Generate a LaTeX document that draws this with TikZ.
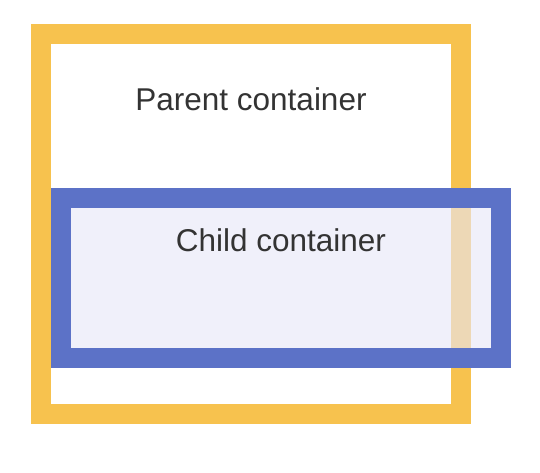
\documentclass[tikz,border=0pt]{standalone}
\usepackage{fontspec}
\setmainfont{Liberation Sans}
\definecolor{pyellow}{RGB}{247,194,78}
\definecolor{cblue}{RGB}{92,114,199}
\definecolor{clav}{RGB}{231,231,247}
\definecolor{txt}{RGB}{51,51,51}
\begin{document}
\begin{tikzpicture}[x=1pt,y=-1pt,
  parentbox/.style={draw=pyellow,line width=20pt},
  childfill/.style={fill=clav,fill opacity=0.62},
  childborder/.style={draw=cblue,line width=20pt},
  lbl/.style={text=txt,font=\fontsize{31.5}{36}\selectfont,inner sep=0pt,anchor=base}]
\useasboundingbox (0,0) rectangle (540,472);
\draw[parentbox] (41,34) rectangle (461,414);
\fill[childfill] (61,198) rectangle (501,358);
\draw[childborder] (61,198) rectangle (501,358);
\node[lbl] (ptext) at (251,110.5) {Parent container};
\node[lbl] (ctext) at (281,251.5) {Child container};
\end{tikzpicture}
\end{document}
